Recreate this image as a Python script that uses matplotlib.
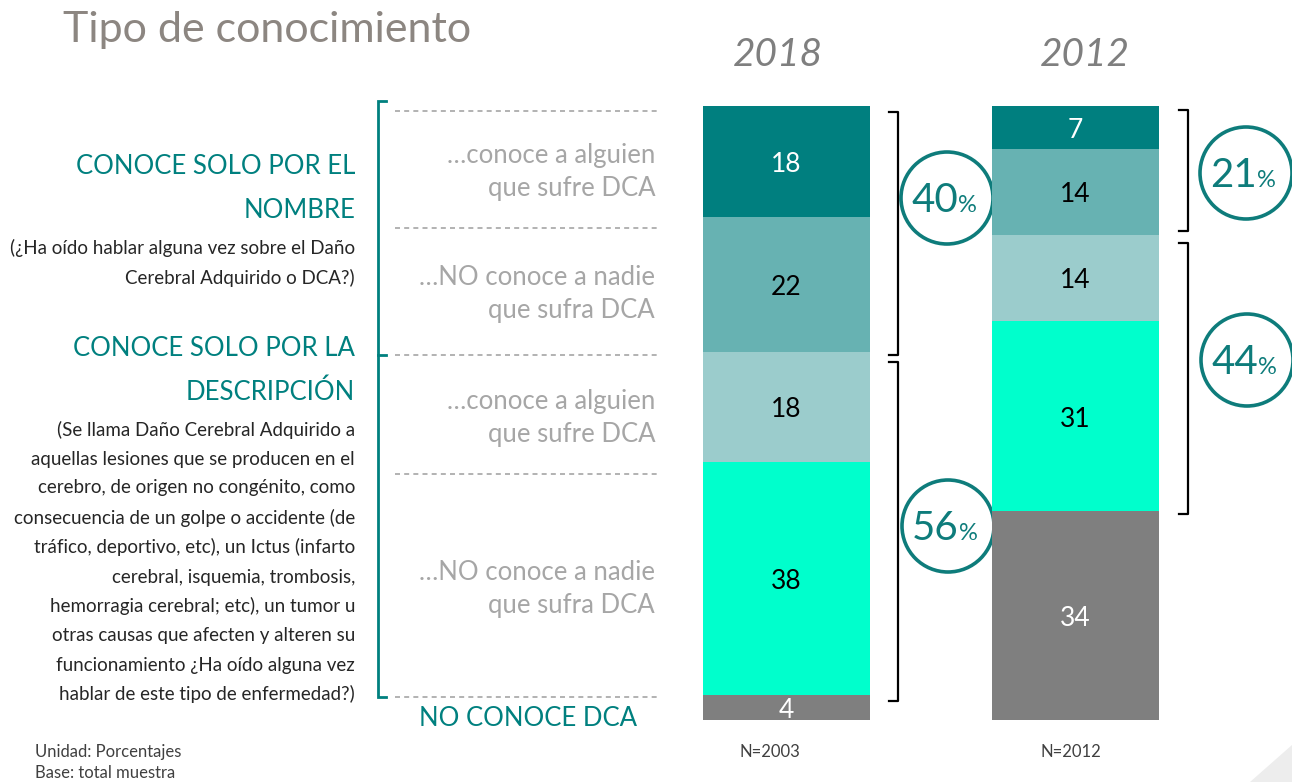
"""Tipo de conocimiento - stacked bars 2018 vs 2012."""

import matplotlib
matplotlib.use('Agg')
import matplotlib.pyplot as plt
from matplotlib.patches import Ellipse, Polygon
from matplotlib.transforms import offset_copy
import numpy as np

plt.rcParams['font.family'] = ['Lato', 'DejaVu Sans']

# ---- data (top to bottom in each bar) ----
years = ['2018', '2012']
sample_sizes = ['N=2003', 'N=2012']
values_2018 = [18, 22, 18, 38, 4]
values_2012 = [7, 14, 14, 31, 34]
segment_colors = ['#007F7F', '#67B2B2', '#9BCCCC', '#00FFCC', '#7F7F7F']
label_colors = ['white', 'black', 'black', 'black', 'white']
group_totals_2018 = [40, 56]
group_totals_2012 = [21, 44]

row_labels = ['…conoce a alguien\nque sufre DCA',
              '…NO conoce a nadie\nque sufra DCA',
              '…conoce a alguien\nque sufre DCA',
              '…NO conoce a nadie\nque sufra DCA']

desc_lines = ['(Se llama Daño Cerebral Adquirido a',
              'aquellas lesiones que se producen en el',
              'cerebro, de origen no congénito, como',
              'consecuencia de un golpe o accidente (de',
              'tráfico, deportivo, etc), un Ictus (infarto',
              'cerebral, isquemia, trombosis,',
              'hemorragia cerebral; etc), un tumor u',
              'otras causas que afecten y alteren su',
              'funcionamiento ¿Ha oído alguna vez',
              'hablar de este tipo de enfermedad?)']

TEAL = '#00807F'
W, H = 1292, 782

fig = plt.figure(figsize=(W / 100, H / 100), dpi=100)
fig.patch.set_facecolor('white')

# overlay in pixel coordinates for annotations
ov = fig.add_axes([0, 0, 1, 1])
ov.set_xlim(0, W)
ov.set_ylim(H, 0)
ov.axis('off')

# bar axes
bx = fig.add_axes([703 / W, (H - 720) / H, 456 / W, 614 / H])
bx.set_xlim(-0.2885, 1.2885)
bx.set_ylim(0, 100)
bx.axis('off')
lab_tr = offset_copy(bx.transData, fig=fig, y=-3, units='dots')

for i, vals in enumerate([values_2018, values_2012]):
    tops = 100 - np.concatenate([[0], np.cumsum(vals)[:-1]])
    bottoms = tops - np.array(vals)
    bx.bar([i] * len(vals), vals, bottom=bottoms, width=0.577,
           color=segment_colors, linewidth=0)
    for v, b, c in zip(vals, bottoms, label_colors):
        bx.text(i, b + v / 2, str(v), ha='center', va='center',
                fontsize=19, color=c, transform=lab_tr)

# title and years
ov.text(63, 30, 'Tipo de conocimiento', fontsize=31, color='#8C8681',
        ha='left', va='center')
ov.text(778, 55, years[0], fontsize=28, color='#7F7F7F', style='italic',
        ha='center', va='center')
ov.text(1085, 55, years[1], fontsize=28, color='#7F7F7F', style='italic',
        ha='center', va='center')

# left headings
HEAD = 18.5
ov.text(355, 167, 'CONOCE SOLO POR EL', fontsize=HEAD, color=TEAL,
        ha='right', va='center')
ov.text(355, 211, 'NOMBRE', fontsize=HEAD, color=TEAL, ha='right', va='center')
ov.text(355, 248, '(¿Ha oído hablar alguna vez sobre el Daño', fontsize=13.5,
        color='#262626', ha='right', va='center')
ov.text(355, 278, 'Cerebral Adquirido o DCA?)', fontsize=13.5,
        color='#262626', ha='right', va='center')
ov.text(355, 349, 'CONOCE SOLO POR LA', fontsize=HEAD, color=TEAL,
        ha='right', va='center')
ov.text(355, 392, 'DESCRIPCIÓN', fontsize=HEAD, color=TEAL,
        ha='right', va='center')
desc_y = [430, 459, 488, 518, 547, 577, 606, 635, 665, 694]
for y, line in zip(desc_y, desc_lines):
    ov.text(355, y, line, fontsize=13.5, color='#262626', ha='right',
            va='center')
ov.text(528, 718, 'NO CONOCE DCA', fontsize=HEAD, color=TEAL,
        ha='center', va='center')

# teal left bracket
ov.plot([386, 378, 378, 386], [101, 101, 697, 697], color=TEAL, lw=2,
        solid_joinstyle='miter')
ov.plot([378, 386], [355, 355], color=TEAL, lw=2)

# dashed separators
for y in [111, 228, 355, 474, 697]:
    ov.plot([395, 660], [y, y], color='#A6A6A6', lw=1.2, ls=(0, (3, 2.5)))

# row labels
for y, lab in zip([172, 294, 418, 589], row_labels):
    ov.text(655, y, lab, fontsize=18.5, color='#A6A6A6', ha='right',
            va='center', linespacing=1.4)

# black brackets
def bracket(x0, x1, y0, y1):
    ov.plot([x0, x1, x1, x0], [y0, y0, y1, y1], color='black', lw=1.6)

bracket(889, 898, 112, 355)
bracket(889, 898, 362, 701)
bracket(1179, 1188, 110, 231)
bracket(1179, 1188, 243, 514)

# circles with totals
def circle(cx, cy, val):
    ov.add_patch(Ellipse((cx, cy), 92, 92, fill=False, edgecolor='#0E7C7B',
                         lw=2.6))
    ov.text(cx + 11, cy + 14, str(val), fontsize=29, color='#0E7C7B',
            ha='right', va='baseline')
    ov.text(cx + 11, cy + 14, '%', fontsize=17, color='#0E7C7B',
            ha='left', va='baseline')

circle(947, 198, group_totals_2018[0])
circle(948, 526, group_totals_2018[1])
circle(1246, 173, group_totals_2012[0])
circle(1247, 360, group_totals_2012[1])

# footer
ov.text(35, 752, 'Unidad: Porcentajes', fontsize=12, color='#404040',
        ha='left', va='center')
ov.text(35, 773, 'Base: total muestra', fontsize=12, color='#404040',
        ha='left', va='center')
ov.text(770, 752, sample_sizes[0], fontsize=12, color='#404040',
        ha='center', va='center')
ov.text(1071, 752, sample_sizes[1], fontsize=12, color='#404040',
        ha='center', va='center')

# subtle corner decoration
ov.add_patch(Polygon([[1250, 782], [1292, 745], [1292, 782]], closed=True,
                     facecolor='#EDEDED', edgecolor='none'))

fig.savefig('out.png', dpi=100, facecolor='white')
